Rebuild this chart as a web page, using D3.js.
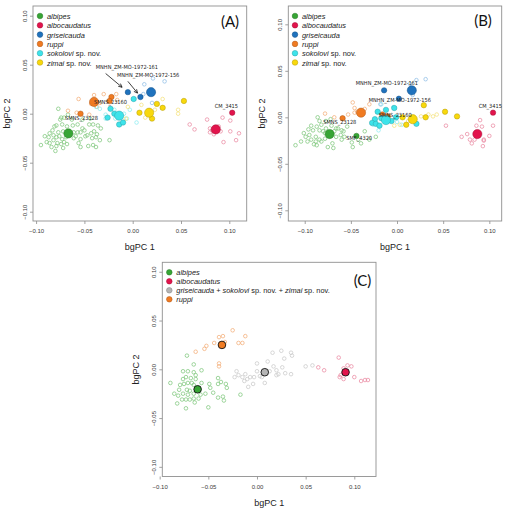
<!DOCTYPE html>
<html><head><meta charset="utf-8">
<script src="https://cdn.jsdelivr.net/npm/d3@7/dist/d3.min.js"></script>
<style>
html,body{margin:0;padding:0;background:#fff;}
svg{display:block;}
</style></head>
<body>
<svg id="chart" width="510" height="510"></svg>
<script>
// ---------------- DATA ----------------
const ticks = [-0.10, -0.05, 0.00, 0.05, 0.10];
const tickLabels = ["\u22120.10", "\u22120.05", "0.00", "0.05", "0.10"];
const xTitle = "bgPC 1";
const yTitle = "bgPC 2";

// Panel A
const A_albipes_open = [[-0.077,0.005],[-0.074,-0.004],[-0.075,-0.006],[-0.071,-0.004],[-0.067,-0.001],[-0.063,-0.006],[-0.079,-0.012],[-0.073,-0.011],[-0.068,-0.013],[-0.062,-0.012],[-0.057,-0.011],[-0.052,-0.015],[-0.045,-0.011],[-0.041,-0.011],[-0.036,-0.012],[-0.081,-0.013],[-0.083,-0.017],[-0.086,-0.020],[-0.091,-0.023],[-0.087,-0.024],[-0.082,-0.022],[-0.079,-0.024],[-0.076,-0.023],[-0.073,-0.026],[-0.078,-0.030],[-0.074,-0.031],[-0.071,-0.029],[-0.069,-0.024],[-0.065,-0.022],[-0.061,-0.019],[-0.057,-0.019],[-0.054,-0.019],[-0.050,-0.017],[-0.047,-0.022],[-0.043,-0.020],[-0.040,-0.018],[-0.037,-0.021],[-0.038,-0.024],[-0.042,-0.025],[-0.054,-0.026],[-0.056,-0.030],[-0.046,-0.033],[-0.041,-0.032],[-0.038,-0.034],[-0.033,-0.015],[-0.079,-0.033],[-0.084,-0.034],[-0.089,-0.029],[-0.095,-0.032],[-0.080,-0.038],[-0.072,-0.035],[-0.024,-0.027],[-0.034,-0.027],[-0.059,-0.023],[-0.067,-0.019],[-0.072,-0.018],[-0.077,-0.019],[-0.082,-0.027],[-0.086,-0.030],[-0.068,-0.031],[-0.061,-0.025],[-0.049,-0.023],[-0.054,-0.034],[-0.044,-0.005],[-0.052,-0.006]];
const A_albipes_mean = [[-0.0666,-0.0201]];
const A_ruppi_open = [[-0.056,0.015],[-0.043,0.010],[-0.040,0.019],[-0.030,0.020],[-0.017,0.020],[-0.016,0.014],[-0.067,0.003],[-0.058,0.001],[-0.045,-0.001],[-0.034,0.011],[-0.037,0.007]];
const A_ruppi_filled = [[-0.022,0.017],[-0.024,0.013],[-0.054,0.000]];
const A_ruppi_mean = [[-0.040,0.012]];
const A_sokolovi_open = [[-0.028,-0.001],[0.004,-0.009],[-0.009,0.000],[-0.003,0.004],[-0.028,-0.005],[-0.018,-0.005],[-0.006,-0.005],[-0.019,0.004],[-0.034,0.005],[-0.038,0.007]];
const A_sokolovi_filled = [[0.001,0.015],[-0.023,0.005],[-0.026,-0.004],[-0.014,-0.011],[-0.010,-0.009],[-0.019,0.000]];
const A_sokolovi_mean = [[-0.014,-0.002]];
const A_griseicauda_open = [[0.012,0.030],[0.021,0.036],[0.033,0.033],[0.011,0.020],[0.020,0.011]];
const A_griseicauda_filled = [[-0.005,0.022],[0.008,0.017]];
const A_griseicauda_mean = [[0.019,0.022]];
const A_zimai_open = [[0.031,0.015],[0.047,0.004],[0.047,0.000],[-0.005,0.007],[0.009,0.009],[-0.007,-0.005],[0.013,-0.004],[0.023,0.004]];
const A_zimai_filled = [[0.007,0.001],[0.020,-0.005],[0.025,0.010],[0.031,0.006],[0.053,0.013]];
const A_zimai_mean = [[0.017,0.001]];
const A_albocaudatus_open = [[0.059,-0.011],[0.064,-0.016],[0.077,-0.006],[0.093,-0.004],[0.101,-0.007],[0.080,-0.015],[0.082,-0.017],[0.091,-0.018],[0.080,-0.019],[0.084,-0.021],[0.101,-0.018],[0.110,-0.020],[0.094,-0.029],[0.107,-0.027],[0.089,-0.013]];
const A_albocaudatus_filled = [[0.103,0.001]];
const A_albocaudatus_mean = [[0.086,-0.016]];
const A_labels = [["MNHN_ZM-MO-1972-161",-0.006,0.048],["MNHN_ZM-MO-1972-156",0.016,0.039],["SMNS_23160",-0.023,0.012],["SMNS_23128",-0.053,-0.004],["CM_3415",0.097,0.008]];
const A_arrows = [[-0.028,0.041,-0.011,0.027],[-0.005,0.033,0.005,0.021]];

// Panel B
const B_albipes_open = [[-0.086,0.000],[-0.084,-0.004],[-0.082,-0.008],[-0.077,-0.004],[-0.072,-0.002],[-0.071,-0.009],[-0.064,-0.012],[-0.060,-0.014],[-0.093,-0.009],[-0.096,-0.013],[-0.101,-0.017],[-0.099,-0.021],[-0.095,-0.019],[-0.091,-0.014],[-0.087,-0.010],[-0.084,-0.014],[-0.088,-0.021],[-0.093,-0.024],[-0.090,-0.029],[-0.087,-0.030],[-0.082,-0.026],[-0.078,-0.023],[-0.075,-0.032],[-0.070,-0.028],[-0.066,-0.021],[-0.060,-0.024],[-0.057,-0.021],[-0.049,-0.027],[-0.048,-0.032],[-0.039,-0.028],[-0.023,-0.021],[-0.030,-0.024],[-0.110,-0.030],[-0.104,-0.026],[-0.097,-0.026],[-0.068,-0.015],[-0.054,-0.010],[-0.080,-0.015],[-0.077,-0.012],[-0.078,-0.017],[-0.061,-0.019],[-0.069,-0.033],[-0.084,-0.024],[-0.058,-0.015],[-0.035,-0.015],[-0.042,-0.024],[-0.066,-0.012],[-0.088,-0.026]];
const B_albipes_filled = [[-0.044,-0.020]];
const B_albipes_mean = [[-0.073,-0.018]];
const B_ruppi_open = [[-0.078,0.004],[-0.048,0.016],[-0.046,0.010],[-0.043,0.006],[-0.068,0.000],[-0.030,0.014],[-0.035,0.009],[-0.046,0.005],[-0.053,0.003]];
const B_ruppi_filled = [[-0.059,-0.001],[-0.016,0.003],[-0.010,0.001]];
const B_ruppi_mean = [[-0.039,0.005]];
const B_griseicauda_open = [[0.014,0.036],[0.021,0.040],[0.031,0.041],[-0.018,0.014],[0.017,0.024]];
const B_griseicauda_filled = [[-0.014,0.029],[0.002,0.020]];
const B_griseicauda_mean = [[0.016,0.029]];
const B_sokolovi_open = [[-0.017,0.014],[-0.020,-0.014],[0.000,-0.005],[0.005,-0.008],[-0.004,0.011],[-0.026,-0.008]];
const B_sokolovi_filled = [[-0.021,0.006],[-0.012,0.008],[-0.003,0.010],[-0.024,-0.002],[-0.027,-0.006],[-0.023,-0.007],[-0.019,-0.009],[-0.001,0.000],[0.021,-0.007],[-0.017,-0.001],[-0.006,-0.004]];
const B_sokolovi_mean = [[-0.012,-0.003]];
const B_zimai_open = [[0.026,0.001],[0.034,0.003],[0.039,0.001],[0.043,0.003],[-0.003,-0.009],[0.003,-0.008],[0.012,-0.004]];
const B_zimai_filled = [[0.006,0.000],[0.010,-0.008],[0.029,0.013],[0.031,0.000],[0.052,0.006],[0.065,0.001]];
const B_zimai_mean = [[0.017,-0.002]];
const B_albocaudatus_open = [[0.053,-0.009],[0.070,-0.021],[0.076,-0.018],[0.086,-0.009],[0.090,-0.003],[0.092,-0.010],[0.104,-0.009],[0.100,-0.020],[0.094,-0.024],[0.081,-0.028],[0.084,-0.024],[0.079,-0.024],[0.093,-0.031],[0.094,-0.025]];
const B_albocaudatus_filled = [[0.104,0.005]];
const B_albocaudatus_mean = [[0.087,-0.018]];
const B_labels = [["MNHN_ZM-MO-1972-161",-0.011,0.037],["MNHN_ZM-MO-1972-156",0.003,0.019],["SMNS_23160",-0.002,0.003],["SMNS_23128",-0.062,-0.005],["SMF_4320",-0.041,-0.022],["CM_3415",0.101,0.012]];

// Panel C
const C_albipes_open = [[-0.072,0.014],[-0.065,0.005],[-0.057,-0.001],[-0.076,-0.002],[-0.071,-0.002],[-0.065,-0.003],[-0.063,-0.006],[-0.073,-0.008],[-0.076,-0.010],[-0.068,-0.009],[-0.063,-0.010],[-0.075,-0.015],[-0.071,-0.014],[-0.067,-0.014],[-0.065,-0.016],[-0.089,-0.014],[-0.080,-0.021],[-0.085,-0.025],[-0.081,-0.027],[-0.076,-0.025],[-0.072,-0.021],[-0.069,-0.022],[-0.065,-0.025],[-0.071,-0.026],[-0.073,-0.031],[-0.069,-0.031],[-0.065,-0.030],[-0.077,-0.031],[-0.082,-0.035],[-0.073,-0.040],[-0.064,-0.034],[-0.060,-0.030],[-0.053,-0.025],[-0.049,-0.015],[-0.048,-0.019],[-0.045,-0.024],[-0.040,-0.009],[-0.040,-0.015],[-0.037,-0.013],[-0.032,-0.015],[-0.031,-0.019],[-0.040,-0.029],[-0.035,-0.028],[-0.034,-0.032],[-0.050,-0.039],[-0.058,-0.026],[-0.017,-0.026],[-0.057,-0.014],[-0.079,-0.016]];
const C_albipes_mean = [[-0.061,-0.0205]];
const C_ruppi_open = [[-0.063,0.018],[-0.054,0.021],[-0.052,0.024],[-0.044,0.027],[-0.039,0.033],[-0.035,0.034],[-0.033,0.028],[-0.025,0.040],[-0.019,0.027],[-0.015,0.027],[-0.012,0.034],[-0.039,0.006],[-0.039,0.003]];
const C_ruppi_mean = [[-0.036,0.025]];
const C_grey_open = [[-0.023,-0.008],[-0.019,-0.006],[-0.015,-0.008],[-0.013,-0.012],[-0.010,-0.010],[-0.012,-0.005],[-0.021,-0.002],[-0.009,-0.018],[-0.004,-0.015],[0.000,-0.002],[-0.003,-0.008],[0.003,-0.007],[0.008,-0.014],[0.000,0.006],[0.011,0.008],[0.016,0.017],[0.017,0.003],[0.020,-0.001],[0.022,-0.005],[0.026,0.002],[0.025,0.019],[0.028,0.011],[0.029,-0.004],[0.035,-0.005],[0.035,0.017],[0.036,0.014],[0.050,0.003],[0.057,0.004],[0.005,-0.008],[-0.007,-0.008],[0.013,-0.002],[0.020,-0.006]];
const C_grey_mean = [[0.008,-0.003]];
const C_albocaudatus_open = [[0.063,0.002],[0.069,-0.001],[0.084,0.012],[0.085,-0.008],[0.086,-0.006],[0.089,-0.010],[0.093,0.004],[0.097,0.003],[0.100,-0.008],[0.089,0.001],[0.107,-0.012],[0.111,-0.011],[0.114,-0.011]];
const C_albocaudatus_mean = [[0.091,-0.003]];

const legendAB = [["albipes",""],["albocaudatus",""],["griseicauda",""],["ruppi",""],["sokolovi"," sp. nov."],["zimai"," sp. nov."]];
const legendC = [["albipes"],["albocaudatus"],["griseicauda + sokolovi sp. nov. + zimai sp. nov."],["ruppi"]];

// ---------------- STYLE ----------------
const COL = {
  albipes:{base:"#37a535", light:"#7fc77c"},
  albocaudatus:{base:"#e2144c", light:"#ea8aa1"},
  griseicauda:{base:"#1f72bd", light:"#8fbde6"},
  ruppi:{base:"#f07b22", light:"#f3ad78"},
  sokolovi:{base:"#3ee3ea", light:"#8cecf1"},
  zimai:{base:"#f8d80c", light:"#f4e27c"},
  grey:{base:"#b4b4b4", light:"#cacaca"}
};
const FONT = "'Liberation Sans', Arial, sans-serif";
const svg = d3.select("#chart");

function panel(cfg){
  const g = svg.append("g");
  const x = d3.scaleLinear().domain(cfg.xd).range([cfg.x0, cfg.x1]);
  const y = d3.scaleLinear().domain(cfg.yd).range([cfg.y1, cfg.y0]);
  const xa = d3.axisBottom(x).tickValues(ticks).tickFormat((d,i)=>tickLabels[i]).tickSize(3).tickPadding(5);
  const ya = d3.axisLeft(y).tickValues(ticks).tickFormat((d,i)=>tickLabels[i]).tickSize(3).tickPadding(3);
  const gx = g.append("g").attr("transform",`translate(0,${cfg.y1})`).call(xa);
  const gy = g.append("g").attr("transform",`translate(${cfg.x0},0)`).call(ya);
  [gx,gy].forEach(a=>{
    a.select(".domain").remove();
    a.selectAll("line").attr("stroke","#8a8a8a").attr("stroke-width",0.8);
    a.selectAll("text").attr("fill","#3a3a3a").attr("font-size","6px").attr("font-family",FONT);
  });
  gy.selectAll(".tick text").attr("text-anchor","middle").attr("dy",null).attr("dominant-baseline","auto")
    .attr("transform","rotate(-90)").attr("x",0).attr("y",-6);
  g.append("rect").attr("x",cfg.x0).attr("y",cfg.y0).attr("width",cfg.x1-cfg.x0).attr("height",cfg.y1-cfg.y0)
    .attr("fill","none").attr("stroke","#909090").attr("stroke-width",0.9);
  g.append("text").attr("x",(cfg.x0+cfg.x1)/2).attr("y",cfg.y1+29).attr("text-anchor","middle")
    .attr("font-size","9px").attr("font-family",FONT).attr("fill","#222").text(xTitle);
  g.append("text").attr("transform",`translate(${cfg.x0-23},${(cfg.y0+cfg.y1)/2}) rotate(-90)`).attr("text-anchor","middle")
    .attr("font-size","9px").attr("font-family",FONT).attr("fill","#222").text(yTitle);
  g.append("text").attr("x",cfg.tag[0]).attr("y",cfg.tag[1]).attr("text-anchor","middle").attr("dominant-baseline","central")
    .attr("font-size","15px").attr("font-family","Lato, 'Open Sans', sans-serif").attr("fill","#111").text(cfg.tag[2]);
  const pts = g.append("g");
  cfg.open.forEach(([arr,c])=>{
    pts.selectAll(null).data(arr).enter().append("circle")
      .attr("cx",d=>x(d[0])).attr("cy",d=>y(d[1])).attr("r",1.8)
      .attr("fill","none").attr("stroke",COL[c].light).attr("stroke-width",0.75);
  });
  cfg.filled.forEach(([arr,c])=>{
    pts.selectAll(null).data(arr).enter().append("circle")
      .attr("cx",d=>x(d[0])).attr("cy",d=>y(d[1])).attr("r",2.7)
      .attr("fill",COL[c].base).attr("stroke",d3.color(COL[c].base).darker(0.9)).attr("stroke-width",0.5);
  });
  cfg.means.forEach(([arr,c])=>{
    pts.selectAll(null).data(arr).enter().append("circle")
      .attr("cx",d=>x(d[0])).attr("cy",d=>y(d[1])).attr("r",cfg.meanR)
      .attr("fill",COL[c].base).attr("stroke",cfg.meanStroke || d3.color(COL[c].base).darker(0.9)).attr("stroke-width",cfg.meanSW||0.5);
  });
  (cfg.labels||[]).forEach(([t,lx,ly])=>{
    g.append("text").attr("x",x(lx)).attr("y",y(ly)).attr("text-anchor","middle").attr("dominant-baseline","central")
      .attr("font-size","5.6px").attr("font-family","'Liberation Sans Narrow','DejaVu Sans Condensed',Arial,sans-serif")
      .attr("fill","#222").text(t);
  });
  (cfg.arrows||[]).forEach(([ax1,ay1,ax2,ay2])=>{
    const X1=x(ax1),Y1=y(ay1),X2=x(ax2),Y2=y(ay2);
    g.append("line").attr("x1",X1).attr("y1",Y1).attr("x2",X2).attr("y2",Y2).attr("stroke","#111").attr("stroke-width",0.8);
    const ang=Math.atan2(Y2-Y1,X2-X1), L=4, w=0.45;
    const p=[[X2-L*Math.cos(ang-w),Y2-L*Math.sin(ang-w)],[X2,Y2],[X2-L*Math.cos(ang+w),Y2-L*Math.sin(ang+w)]];
    g.append("path").attr("d",d3.line()(p)).attr("fill","none").attr("stroke","#111").attr("stroke-width",0.8);
  });
  cfg.legend.forEach((item,i)=>{
    const ly = cfg.leg[1] + i*cfg.leg[2];
    const c = COL[cfg.legCols[i]].base;
    g.append("circle").attr("cx",cfg.leg[0]).attr("cy",ly).attr("r",2.8)
      .attr("fill",c).attr("stroke",d3.color(c).darker(0.9)).attr("stroke-width",0.5);
    const t = g.append("text").attr("x",cfg.leg[0]+7).attr("y",ly).attr("dominant-baseline","central")
      .attr("font-size","7.4px").attr("font-family",FONT).attr("fill","#222");
    if(item.length===1 && item[0].indexOf("+")>0){
      const parts = ["griseicauda"," + ","sokolovi"," sp. nov. + ","zimai"," sp. nov."];
      parts.forEach((p,k)=>t.append("tspan").attr("font-style",k%2===0?"italic":"normal").text(p));
    } else {
      t.append("tspan").attr("font-style","italic").text(item[0]);
      if(item[1]) t.append("tspan").text(item[1]);
    }
  });
}

panel({x0:33,x1:246.7,y0:6,y1:221,xd:[-0.1032,0.1180],yd:[-0.1095,0.1099],tag:[230,21,"(A)"],
  meanR:4.6,
  open:[[A_albipes_open,"albipes"],[A_ruppi_open,"ruppi"],[A_sokolovi_open,"sokolovi"],[A_griseicauda_open,"griseicauda"],[A_zimai_open,"zimai"],[A_albocaudatus_open,"albocaudatus"]],
  filled:[[A_ruppi_filled,"ruppi"],[A_sokolovi_filled,"sokolovi"],[A_griseicauda_filled,"griseicauda"],[A_zimai_filled,"zimai"],[A_albocaudatus_filled,"albocaudatus"]],
  means:[[A_albipes_mean,"albipes"],[A_ruppi_mean,"ruppi"],[A_sokolovi_mean,"sokolovi"],[A_griseicauda_mean,"griseicauda"],[A_zimai_mean,"zimai"],[A_albocaudatus_mean,"albocaudatus"]],
  labels:A_labels, arrows:A_arrows,
  legend:legendAB, legCols:["albipes","albocaudatus","griseicauda","ruppi","sokolovi","zimai"], leg:[40,16,9.3]});

panel({x0:288.3,x1:501.7,y0:6,y1:221,xd:[-0.1178,0.1134],yd:[-0.1115,0.1197],tag:[483,20,"(B)"],
  meanR:4.6,
  open:[[B_albipes_open,"albipes"],[B_ruppi_open,"ruppi"],[B_sokolovi_open,"sokolovi"],[B_griseicauda_open,"griseicauda"],[B_zimai_open,"zimai"],[B_albocaudatus_open,"albocaudatus"]],
  filled:[[B_albipes_filled,"albipes"],[B_ruppi_filled,"ruppi"],[B_sokolovi_filled,"sokolovi"],[B_griseicauda_filled,"griseicauda"],[B_zimai_filled,"zimai"],[B_albocaudatus_filled,"albocaudatus"]],
  means:[[B_albipes_mean,"albipes"],[B_ruppi_mean,"ruppi"],[B_sokolovi_mean,"sokolovi"],[B_griseicauda_mean,"griseicauda"],[B_zimai_mean,"zimai"],[B_albocaudatus_mean,"albocaudatus"]],
  labels:B_labels,
  legend:legendAB, legCols:["albipes","albocaudatus","griseicauda","ruppi","sokolovi","zimai"], leg:[295,16,9.3]});

panel({x0:162.3,x1:376,y0:262.3,y1:476.5,xd:[-0.0973,0.1223],yd:[-0.1099,0.1097],tag:[362.5,280,"(C)"],
  meanR:3.8, meanStroke:"#111", meanSW:0.9,
  open:[[C_albipes_open,"albipes"],[C_ruppi_open,"ruppi"],[C_grey_open,"grey"],[C_albocaudatus_open,"albocaudatus"]],
  filled:[],
  means:[[C_albipes_mean,"albipes"],[C_ruppi_mean,"ruppi"],[C_grey_mean,"grey"],[C_albocaudatus_mean,"albocaudatus"]],
  legend:legendC, legCols:["albipes","albocaudatus","grey","ruppi"], leg:[169.3,272.3,9]});
</script>
</body></html>
